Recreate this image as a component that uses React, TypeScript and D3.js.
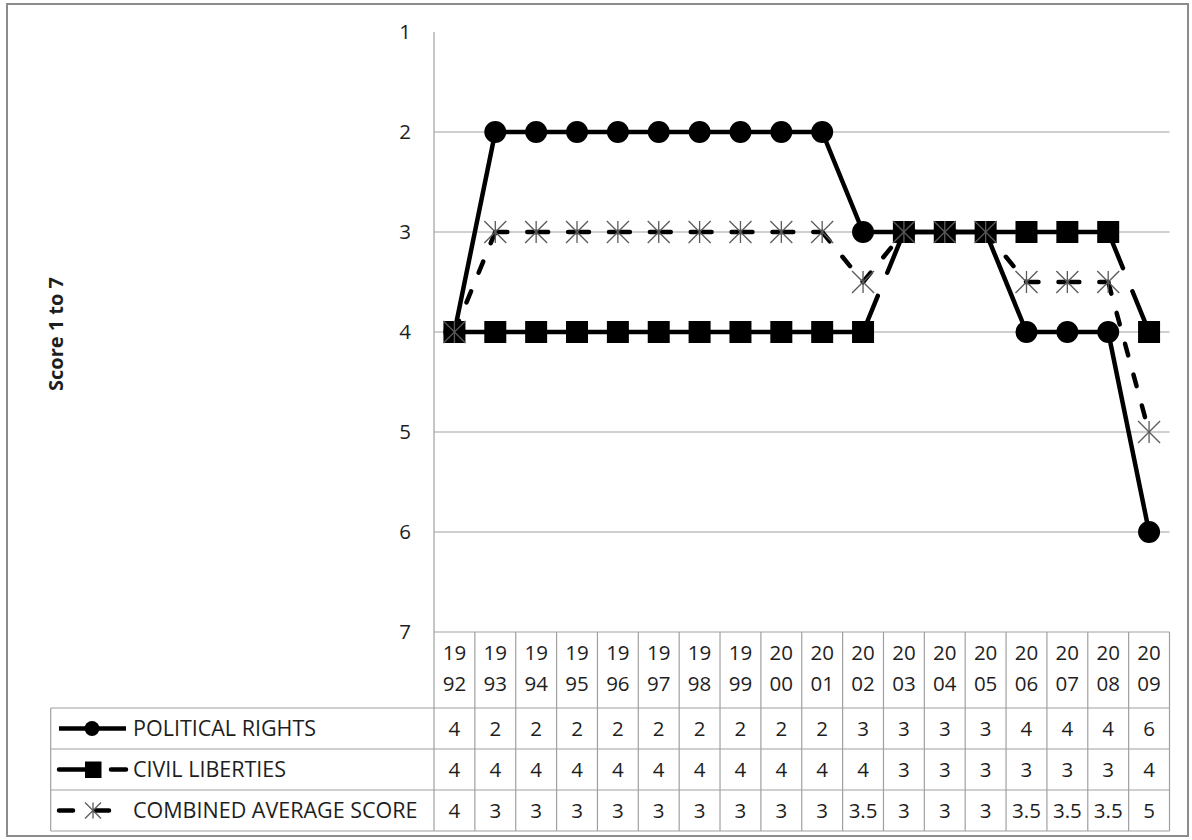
import React from "react";
import * as d3 from "d3";

// Freedom scores per year (1 = most free, 7 = least free)
const YEARS = [
  "1992", "1993", "1994", "1995", "1996", "1997", "1998", "1999", "2000",
  "2001", "2002", "2003", "2004", "2005", "2006", "2007", "2008", "2009",
];
const POLITICAL_RIGHTS = [4, 2, 2, 2, 2, 2, 2, 2, 2, 2, 3, 3, 3, 3, 4, 4, 4, 6];
const CIVIL_LIBERTIES = [4, 4, 4, 4, 4, 4, 4, 4, 4, 4, 4, 3, 3, 3, 3, 3, 3, 4];
const COMBINED_AVERAGE = [4, 3, 3, 3, 3, 3, 3, 3, 3, 3, 3.5, 3, 3, 3, 3.5, 3.5, 3.5, 5];
const Y_TICKS = [1, 2, 3, 4, 5, 6, 7];
const GRID_TICKS = [2, 3, 4, 5, 6];
const SERIES_LABELS = ["POLITICAL RIGHTS", "CIVIL LIBERTIES", "COMBINED AVERAGE SCORE"];
const Y_TITLE = "Score 1 to 7";

const W = 1192;
const H = 840;
const FONT = "'Open Sans', 'Noto Sans', sans-serif";
const TEXT = "#1e1e1e";
const RULE = "#a0a0a0";

const PLOT_LEFT = 434;
const PLOT_RIGHT = 1169.5;
const PLOT_TOP = 32;
const PLOT_BOTTOM = 632;
const TABLE_LEFT = 50.7;
const HEADER_BOTTOM = 708;
const ROW_H = 41;

type Pt = [number, number];

function Star({ cx, cy, r, stroke = "#5a5a5a", sw = 1.3 }: { cx: number; cy: number; r: number; stroke?: string; sw?: number }) {
  return (
    <g stroke={stroke} strokeWidth={sw} fill="none">
      <line x1={cx} y1={cy - r} x2={cx} y2={cy + r} />
      <line x1={cx - r} y1={cy - r} x2={cx + r} y2={cy + r} />
      <line x1={cx - r} y1={cy + r} x2={cx + r} y2={cy - r} />
    </g>
  );
}

export default function App() {
  const x = d3.scaleBand<string>().domain(YEARS).range([PLOT_LEFT, PLOT_RIGHT]).padding(0);
  const y = d3.scaleLinear().domain([1, 7]).range([PLOT_TOP, PLOT_BOTTOM]);
  const bw = x.bandwidth();
  const cx = (yr: string) => (x(yr) as number) + bw / 2;
  const line = d3.line<Pt>().x((d) => d[0]).y((d) => d[1]);

  const pts = (vals: number[]): Pt[] => vals.map((v, i) => [cx(YEARS[i]), y(v)]);
  // Dash patterns restart on every segment, so dashed series are drawn piecewise
  const segments = (p: Pt[]) => p.slice(1).map((d, i) => line([p[i], d]) as string);

  const pr = pts(POLITICAL_RIGHTS);
  const cl = pts(CIVIL_LIBERTIES);
  const ca = pts(COMBINED_AVERAGE);

  const rowsY = [0, 1, 2, 3].map((i) => HEADER_BOTTOM + i * ROW_H);
  const rowMid = (i: number) => HEADER_BOTTOM + i * ROW_H + ROW_H / 2;
  const tableRows = [POLITICAL_RIGHTS, CIVIL_LIBERTIES, COMBINED_AVERAGE];
  const colEdges = YEARS.map((yr) => x(yr) as number).concat([PLOT_RIGHT]);

  return (
    <div style={{ position: "absolute", left: 0, top: 0 }}>
      <svg width={W} height={H} style={{ display: "block", background: "#fff" }} fontFamily={FONT}>
        <rect x={0} y={0} width={W} height={H} fill="#fff" />
        {/* outer frame */}
        <rect x={7} y={4} width={1181} height={832} fill="none" stroke="#8c8c8c" strokeWidth={2} />

        {/* y title */}
        <text
          transform={`translate(63,${(PLOT_TOP + PLOT_BOTTOM) / 2 + 2}) rotate(-90)`}
          textAnchor="middle"
          fontSize={20}
          fontWeight={700}
          fill={TEXT}
        >
          {Y_TITLE}
        </text>

        {/* gridlines */}
        {GRID_TICKS.map((t) => (
          <line key={t} x1={PLOT_LEFT} x2={PLOT_RIGHT} y1={y(t)} y2={y(t)} stroke={RULE} strokeWidth={1.2} />
        ))}
        {/* value axis */}
        <line x1={PLOT_LEFT} x2={PLOT_LEFT} y1={y(1)} y2={y(7)} stroke={RULE} strokeWidth={1.2} />
        {Y_TICKS.map((t) => (
          <text key={t} x={411} y={y(t) + 7} textAnchor="end" fontSize={20.5} fill={TEXT}>
            {t}
          </text>
        ))}

        {/* data table */}
        <g stroke={RULE} strokeWidth={1.2}>
          <line x1={PLOT_LEFT} x2={PLOT_RIGHT} y1={PLOT_BOTTOM} y2={PLOT_BOTTOM} />
          {rowsY.map((ry, i) => (
            <line key={i} x1={TABLE_LEFT} x2={PLOT_RIGHT} y1={ry} y2={ry} />
          ))}
          <line x1={TABLE_LEFT} x2={TABLE_LEFT} y1={HEADER_BOTTOM} y2={rowsY[3]} />
          {colEdges.map((ex, i) => (
            <line key={i} x1={ex} x2={ex} y1={PLOT_BOTTOM} y2={rowsY[3]} />
          ))}
        </g>
        {YEARS.map((yr) => (
          <text key={yr} x={cx(yr)} textAnchor="middle" fontSize={20.5} fill={TEXT}>
            <tspan x={cx(yr)} y={660}>{yr.slice(0, 2)}</tspan>
            <tspan x={cx(yr)} y={691}>{yr.slice(2)}</tspan>
          </text>
        ))}
        {tableRows.map((vals, r) =>
          vals.map((v, i) => (
            <text key={`${r}-${i}`} x={cx(YEARS[i])} y={rowMid(r) + 7} textAnchor="middle" fontSize={20.5} fill={TEXT}>
              {String(v)}
            </text>
          ))
        )}

        {/* legend keys */}
        {SERIES_LABELS.map((lab, r) => (
          <text key={lab} x={133} y={rowMid(r) + 7} fontSize={21.5} fill={TEXT}>
            {lab}
          </text>
        ))}
        <line x1={59} x2={126} y1={rowMid(0)} y2={rowMid(0)} stroke="#000" strokeWidth={4.5} />
        <circle cx={92} cy={rowMid(0)} r={7.5} fill="#000" />
        <line x1={59} x2={126} y1={rowMid(1)} y2={rowMid(1)} stroke="#000" strokeWidth={4.5} strokeDasharray="30 22" strokeLinecap="round" />
        <rect x={85} y={rowMid(1) - 8} width={16.5} height={16.5} fill="#000" />
        <line x1={59} x2={112} y1={rowMid(2)} y2={rowMid(2)} stroke="#000" strokeWidth={4.5} strokeDasharray="14 22" strokeLinecap="round" />
        <Star cx={93} cy={rowMid(2)} r={8} />

        {/* political rights */}
        <path d={line(pr) as string} fill="none" stroke="#000" strokeWidth={4.5} strokeLinejoin="round" />
        {pr.map((p, i) => (
          <circle key={i} cx={p[0]} cy={p[1]} r={11} fill="#000" />
        ))}

        {/* civil liberties */}
        {segments(cl).map((d, i) => (
          <path key={i} d={d} fill="none" stroke="#000" strokeWidth={4.5} strokeDasharray="39 25" strokeLinecap="round" />
        ))}
        {cl.map((p, i) => (
          <rect key={i} x={p[0] - 11} y={p[1] - 11} width={22} height={22} fill="#000" />
        ))}

        {/* combined average */}
        {segments(ca).map((d, i) => (
          <path key={i} d={d} fill="none" stroke="#000" strokeWidth={4.5} strokeDasharray="12 20" strokeLinecap="round" />
        ))}
        {ca.map((p, i) => (
          <Star key={i} cx={p[0]} cy={p[1]} r={11} />
        ))}
      </svg>
    </div>
  );
}
